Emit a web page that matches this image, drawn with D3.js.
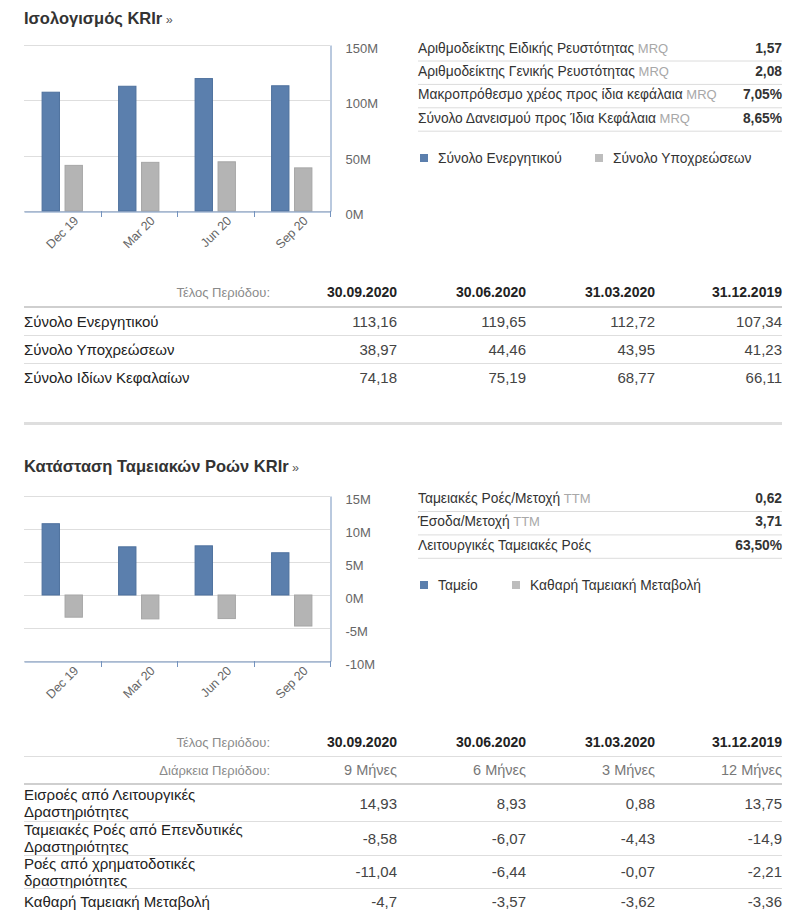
<!DOCTYPE html>
<html>
<head>
<meta charset="utf-8">
<script src="https://cdn.jsdelivr.net/npm/d3@7/dist/d3.min.js"></script>
<style>
  html, body { margin: 0; padding: 0; background: #fff; }
  svg { display: block; font-family: "Liberation Sans", Arial, sans-serif; }
</style>
</head>
<body>
<svg id="page" width="800" height="914"></svg>
<script>
// ---------------- DATA ----------------
const categories = ["Dec 19", "Mar 20", "Jun 20", "Sep 20"];
const totalAssets = [107.34, 112.72, 119.65, 113.16];
const totalLiabilities = [41.23, 43.95, 44.46, 38.97];
const balanceTicks = [0, 50, 100, 150];

const cashBox = [10.8, 7.3, 7.45, 6.4];
const netCashChange = [-3.36, -3.62, -3.57, -4.7];
const cashTicks = [-10, -5, 0, 5, 10, 15];

const balanceSeriesNames = ["Σύνολο Ενεργητικού", "Σύνολο Υποχρεώσεων"];
const cashSeriesNames = ["Ταμείο", "Καθαρή Ταμειακή Μεταβολή"];

const balanceRatioLabels = ["Αριθμοδείκτης Ειδικής Ρευστότητας", "Αριθμοδείκτης Γενικής Ρευστότητας", "Μακροπρόθεσμο χρέος προς ίδια κεφάλαια", "Σύνολο Δανεισμού προς Ίδια Κεφάλαια"];
const balanceRatioTags = ["MRQ", "MRQ", "MRQ", "MRQ"];
const balanceRatioValues = ["1,57", "2,08", "7,05%", "8,65%"];

const cashRatioLabels = ["Ταμειακές Ροές/Μετοχή", "Έσοδα/Μετοχή", "Λειτουργικές Ταμειακές Ροές"];
const cashRatioTags = ["TTM", "TTM", ""];
const cashRatioValues = ["0,62", "3,71", "63,50%"];

const periodDates = ["30.09.2020", "30.06.2020", "31.03.2020", "31.12.2019"];
const periodDurations = ["9 Μήνες", "6 Μήνες", "3 Μήνες", "12 Μήνες"];

const balanceRowLabels = ["Σύνολο Ενεργητικού", "Σύνολο Υποχρεώσεων", "Σύνολο Ιδίων Κεφαλαίων"];
const balanceRowValues = [
  ["113,16", "119,65", "112,72", "107,34"],
  ["38,97", "44,46", "43,95", "41,23"],
  ["74,18", "75,19", "68,77", "66,11"]
];

const cashRowLabels = [
  ["Εισροές από Λειτουργικές", "Δραστηριότητες"],
  ["Ταμειακές Ροές από Επενδυτικές", "Δραστηριότητες"],
  ["Ροές από χρηματοδοτικές", "δραστηριότητες"],
  ["Καθαρή Ταμειακή Μεταβολή"]
];
const cashRowValues = [
  ["14,93", "8,93", "0,88", "13,75"],
  ["-8,58", "-6,07", "-4,43", "-14,9"],
  ["-11,04", "-6,44", "-0,07", "-2,21"],
  ["-4,7", "-3,57", "-3,62", "-3,36"]
];

// ---------------- STYLE ----------------
const BLUE = "#5b7fad", BLUE_EDGE = "#4d709d";
const GREY = "#b4b4b4", GREY_EDGE = "#a6a6a6";
const AXIS = "#7493be", GRID = "#dedede";
const svg = d3.select("#page");

function title(y, txt) {
  const t = svg.append("text").attr("x", 24).attr("y", y)
    .attr("font-size", 16.5).attr("font-weight", "bold").attr("fill", "#333");
  t.append("tspan").text(txt);
  t.append("tspan").attr("font-size", 12.5).attr("font-weight", "normal").attr("fill", "#555").text(" »");
}

function chart(opts) {
  const { top, bottom, domain, ticks, s1, s2 } = opts;
  const left = 24, right = 330;
  const g = svg.append("g");
  const x0 = d3.scaleBand().domain(categories).range([left, right]).padding(0);
  const bw = x0.bandwidth();
  const x1 = d3.scaleBand().domain([0, 1]).range([0.2 * bw, 0.8 * bw]).paddingInner(0.2).paddingOuter(0.1);
  const y = d3.scaleLinear().domain(domain).range([bottom, top]);

  g.append("g").selectAll("line").data(ticks).join("line")
    .attr("x1", left).attr("x2", right)
    .attr("y1", d => Math.round(y(d)) + 0.5).attr("y2", d => Math.round(y(d)) + 0.5)
    .attr("stroke", GRID).attr("stroke-width", 1);

  const series = [{ v: s1, fill: BLUE, edge: BLUE_EDGE }, { v: s2, fill: GREY, edge: GREY_EDGE }];
  series.forEach((s, si) => {
    g.append("g").selectAll("rect").data(categories).join("rect")
      .attr("x", (c) => x0(c) + x1(si) + 0.5)
      .attr("width", x1.bandwidth() - 1)
      .attr("y", (c, i) => y(Math.max(0, s.v[i])))
      .attr("height", (c, i) => Math.abs(y(s.v[i]) - y(0)))
      .attr("fill", s.fill).attr("stroke", s.edge).attr("stroke-width", 1);
  });

  const ya = g.append("g").attr("transform", `translate(${right + 0.5},0)`)
    .call(d3.axisRight(y).tickValues(ticks).tickFormat(d => d + "M").tickSize(0).tickSizeOuter(0).tickPadding(15));
  ya.select(".domain").attr("stroke", AXIS);
  ya.selectAll("text").attr("font-size", 13).attr("fill", "#666").attr("dy", "0.58em")
    .attr("font-family", "'Liberation Sans', Arial, sans-serif");

  const xa = g.append("g").attr("transform", `translate(0,${bottom + 0.5})`)
    .call(d3.axisBottom(x0).tickSize(0).tickSizeOuter(0));
  xa.select(".domain").attr("stroke", AXIS);
  xa.selectAll("text")
    .attr("font-size", 12.5).attr("fill", "#666")
    .attr("font-family", "'Liberation Sans', Arial, sans-serif")
    .attr("text-anchor", "end").attr("y", 0).attr("dy", "0")
    .attr("transform", "translate(17,10) rotate(-45)");
  g.append("g").selectAll("line").data(categories).join("line")
    .attr("x1", c => Math.round(x0(c) + bw) + 0.5).attr("x2", c => Math.round(x0(c) + bw) + 0.5)
    .attr("y1", bottom).attr("y2", bottom + 6)
    .attr("stroke", AXIS);
}

function statsPanel(opts) {
  const { top, labels, tags, values, pitch } = opts;
  const g = svg.append("g");
  labels.forEach((l, i) => {
    const cy = top + i * pitch;
    const t = g.append("text").attr("x", 418).attr("y", cy + 5).attr("font-size", 13.8).attr("fill", "#333");
    t.append("tspan").text(l);
    if (tags[i]) t.append("tspan").attr("fill", "#a8a8a8").attr("font-size", 13).text(" " + tags[i]);
    g.append("text").attr("x", 782).attr("y", cy + 5).attr("text-anchor", "end")
      .attr("font-size", 13.8).attr("font-weight", "bold").attr("fill", "#333").text(values[i]);
    g.append("line").attr("x1", 418).attr("x2", 782)
      .attr("y1", cy + 13.5).attr("y2", cy + 13.5).attr("stroke", "#dcdcdc");
  });
}

function legend(y, names, xs) {
  const cols = [BLUE, "#bdbdbd"];
  names.forEach((n, i) => {
    svg.append("rect").attr("x", xs[i]).attr("y", y - 4).attr("width", 8).attr("height", 8).attr("fill", cols[i]);
    svg.append("text").attr("x", xs[i] + 18).attr("y", y + 5).attr("font-size", 13.8).attr("fill", "#333").text(n);
  });
}

const colRight = [397, 526, 655, 782];

function headerRow(y, label, vals, bold, valColor) {
  svg.append("text").attr("x", 270).attr("y", y + 4.5).attr("text-anchor", "end")
    .attr("font-size", 13).attr("fill", "#8a8a8a").text(label);
  vals.forEach((v, i) => {
    svg.append("text").attr("x", colRight[i]).attr("y", y + 5).attr("text-anchor", "end")
      .attr("font-size", bold ? 14 : 14.5).attr("font-weight", bold ? "bold" : "normal").attr("fill", valColor).text(v);
  });
}
function hline(y, w, c) {
  svg.append("line").attr("x1", 24).attr("x2", 782).attr("y1", y).attr("y2", y)
    .attr("stroke", c).attr("stroke-width", w);
}

// ---------------- SECTION 1 ----------------
title(24, "Ισολογισμός KRIr");
chart({ top: 45, bottom: 211, domain: [0, 150], ticks: balanceTicks, s1: totalAssets, s2: totalLiabilities });
statsPanel({ top: 47.5, labels: balanceRatioLabels, tags: balanceRatioTags, values: balanceRatioValues, pitch: 23.4 });
legend(158, balanceSeriesNames, [420, 595]);

headerRow(292, "Τέλος Περιόδου:", periodDates, true, "#222");
hline(307, 2, "#cfcfcf");
balanceRowLabels.forEach((l, r) => {
  const cy = 321 + r * 28;
  svg.append("text").attr("x", 24).attr("y", cy + 5.5).attr("font-size", 15).attr("fill", "#222").text(l);
  balanceRowValues[r].forEach((v, i) => {
    svg.append("text").attr("x", colRight[i]).attr("y", cy + 5.5).attr("text-anchor", "end")
      .attr("font-size", 15).attr("fill", "#444").text(v);
  });
  if (r < balanceRowLabels.length - 1) hline(cy + 14.5, 1, "#dedede");
});

hline(423.5, 3, "#dedede");

// ---------------- SECTION 2 ----------------
title(472, "Κατάσταση Ταμειακών Ροών KRIr");
chart({ top: 496, bottom: 661, domain: [-10, 15], ticks: cashTicks, s1: cashBox, s2: netCashChange });
statsPanel({ top: 498, labels: cashRatioLabels, tags: cashRatioTags, values: cashRatioValues, pitch: 23.4 });
legend(585, cashSeriesNames, [420, 512]);

headerRow(742, "Τέλος Περιόδου:", periodDates, true, "#222");
hline(756.5, 1, "#dedede");
headerRow(770, "Διάρκεια Περιόδου:", periodDurations, false, "#777");
hline(784, 2, "#cfcfcf");

const rowBounds = [785, 821, 855, 888, 914];
cashRowLabels.forEach((lines, r) => {
  const cy = (rowBounds[r] + rowBounds[r + 1]) / 2;
  const lh = 17;
  lines.forEach((ln, k) => {
    const ly = cy + (k - (lines.length - 1) / 2) * lh;
    svg.append("text").attr("x", 24).attr("y", ly + 5.5).attr("font-size", 15).attr("fill", "#222").text(ln);
  });
  cashRowValues[r].forEach((v, i) => {
    svg.append("text").attr("x", colRight[i]).attr("y", cy + 5.5).attr("text-anchor", "end")
      .attr("font-size", 15).attr("fill", "#444").text(v);
  });
  if (r < cashRowLabels.length - 1) hline(rowBounds[r + 1] + 0.5, 1, "#dedede");
});
</script>
</body>
</html>
